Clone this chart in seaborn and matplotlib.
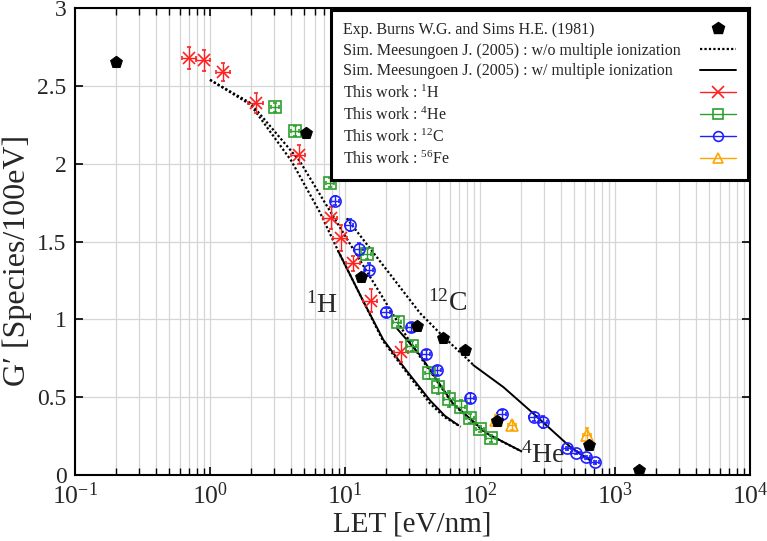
import matplotlib
matplotlib.use("Agg")
import matplotlib.pyplot as plt
import numpy as np
import pandas as pd
import seaborn as sns
from matplotlib.lines import Line2D
from matplotlib.ticker import LogLocator, MultipleLocator, FuncFormatter, NullFormatter

# experiment: Burns W.G. and Sims H.E. (1981)
exp_let = [0.2, 5.1, 13.1, 34.4, 53.5, 78.0, 133, 640, 1515]
exp_g = [2.655, 2.20, 1.275, 0.958, 0.882, 0.806, 0.349, 0.193, 0.034]

# simulation Meesungoen (2005), w/o multiple ionization (dotted)
h_wo_let = [1.0, 2.0, 4.0, 6.5, 8.9, 13.6, 19.2, 28.6, 42.6, 55, 72]
h_wo_g = [2.54, 2.38, 2.02, 1.69, 1.44, 1.12, 0.86, 0.66, 0.46, 0.37, 0.31]
he_wo_let = [1.0, 2.0, 4.6, 7.7, 15.3, 28.6, 36, 63, 112, 205]
he_wo_g = [2.54, 2.39, 2.02, 1.70, 1.275, 0.89, 0.76, 0.455, 0.265, 0.15]
c_wo_let = [10.3, 20.3, 36, 52, 84, 90]
c_wo_g = [1.65, 1.32, 1.04, 0.90, 0.73, 0.705]

# simulation Meesungoen (2005), w/ multiple ionization (solid)
h_w_let = [8.9, 13.6, 19.2, 28.6, 42.6, 55, 69]
h_w_g = [1.44, 1.12, 0.87, 0.67, 0.48, 0.38, 0.32]
he_w_let = [24.2, 36, 63, 112, 200]
he_w_g = [0.943, 0.77, 0.46, 0.268, 0.155]
c_w_let = [89, 149, 248, 464, 650]
c_w_g = [0.707, 0.565, 0.396, 0.182, 0.096]

# this work
h_let = [0.70, 0.90, 1.25, 2.19, 4.54, 7.85, 9.3, 11.5, 15.5, 26.0]
h_g = [2.68, 2.665, 2.59, 2.39, 2.06, 1.65, 1.525, 1.36, 1.12, 0.793]
h_err = [0.07, 0.07, 0.06, 0.065, 0.06, 0.07, 0.085, 0.05, 0.075, 0.065]

he_let = [3.03, 4.26, 7.74, 14.5, 24.5, 31.2, 41.8, 48.7, 58.5, 72.5, 84.0, 100, 120]
he_g = [2.363, 2.212, 1.878, 1.42, 0.986, 0.829, 0.654, 0.568, 0.49, 0.439, 0.364, 0.294, 0.235]
he_err = [0.03, 0.03, 0.03, 0.03, 0.03, 0.03, 0.04, 0.05, 0.05, 0.04, 0.03, 0.02, 0.02]

c_let = [8.5, 10.8, 12.6, 15.1, 20.0, 31.0, 39.8, 48.0, 84.4, 144.5, 250, 294, 443, 511, 610, 711]
c_g = [1.764, 1.608, 1.45, 1.32, 1.045, 0.95, 0.775, 0.672, 0.496, 0.39, 0.375, 0.34, 0.171, 0.144, 0.114, 0.081]
c_err = [0.03, 0.04, 0.04, 0.04, 0.03, 0.03, 0.03, 0.03, 0.03, 0.03, 0.03, 0.04, 0.01, 0.01, 0.01, 0.01]

fe_let = [131.5, 174, 620]
fe_g = [0.354, 0.32, 0.26]
fe_err = [0.03, 0.03, 0.045]

sns.set_theme(style="ticks")
plt.rcParams["font.family"] = ["Liberation Serif", "DejaVu Serif"]
plt.rcParams["mathtext.fontset"] = "custom"
plt.rcParams["mathtext.rm"] = "Liberation Serif"
plt.rcParams["mathtext.it"] = "Liberation Serif:italic"
plt.rcParams["mathtext.bf"] = "Liberation Serif:bold"

fig = plt.figure(figsize=(7.67, 5.41), dpi=100)
ax = fig.add_axes([0.0978, 0.122, 0.880, 0.8627])

dotted = (0, (1, 1))
for lx, ly in [(h_wo_let, h_wo_g), (he_wo_let, he_wo_g), (c_wo_let, c_wo_g)]:
    sns.lineplot(x=lx, y=ly, ax=ax, color="black", lw=1.6, linestyle=dotted,
                 estimator=None, sort=False)
for lx, ly in [(h_w_let, h_w_g), (he_w_let, he_w_g), (c_w_let, c_w_g)]:
    sns.lineplot(x=lx, y=ly, ax=ax, color="black", lw=1.4,
                 estimator=None, sort=False)

styles = {
    "H": ("#ff2020", "x", 9),
    "He": ("#2ca02c", "s", 8),
    "C": ("#1f1fff", "o", 8),
    "Fe": ("#ffa500", "^", 8),
}


def work(lx, ly, err, key, frac):
    color, marker, ms = styles[key]
    lx = np.array(lx)
    ax.errorbar(lx, ly, yerr=err, xerr=lx * frac, fmt=marker, color=color,
                mfc="none" if marker != "x" else color, mec=color, ms=ms,
                mew=1.2, elinewidth=1.0, capsize=1.5, capthick=1.0, zorder=4)
    return Line2D([], [], color=color, lw=1.0, marker=marker, ms=ms - 1,
                  mfc="none" if marker != "x" else color, mec=color, mew=1.2)


eh = work(h_let, h_g, h_err, "H", 0.12)
ehe = work(he_let, he_g, he_err, "He", 0.07)
ec = work(c_let, c_g, c_err, "C", 0.07)
efe = work(fe_let, fe_g, fe_err, "Fe", 0.07)

sns.scatterplot(x=exp_let, y=exp_g, ax=ax, marker="p", s=80, color="black",
                edgecolor="black", zorder=5)

ax.text(6.75, 1.09, "$^{1}$H", fontsize=20, ha="center", va="center")
ax.text(58, 1.105, "$^{12}$C", fontsize=20, ha="center", va="center")
ax.text(291, 0.128, "$^{4}$He", fontsize=20, ha="center", va="center")

ax.set_xscale("log")
ax.set_xlim(0.1, 1e4)
ax.set_ylim(0, 3)
ax.xaxis.set_major_locator(LogLocator(base=10, numticks=10))
ax.xaxis.set_minor_locator(LogLocator(base=10, subs=np.arange(2, 10), numticks=100))
ax.xaxis.set_minor_formatter(NullFormatter())
ax.yaxis.set_major_locator(MultipleLocator(0.5))
ax.yaxis.set_major_formatter(FuncFormatter(lambda v, p: "%g" % v))
ax.grid(which="both", axis="x", color="#d6d6d6", lw=0.9)
ax.grid(which="major", axis="y", color="#d6d6d6", lw=0.9)
ax.set_axisbelow(True)
ax.tick_params(which="both", direction="in", top=True, right=True, color="black")
ax.tick_params(which="major", length=6, width=1.2, labelsize=17, pad=6)
ax.tick_params(axis="x", which="major", labelsize=18.5, pad=5)
ax.tick_params(which="minor", length=5, width=1.0)
for s in ax.spines.values():
    s.set_linewidth(1.5)
    s.set_color("black")

ax.set_xlabel("LET [eV/nm]", fontsize=21, labelpad=2)
ax.set_ylabel("G\u2032 [Species/100eV]", fontsize=23)
ax.yaxis.set_label_coords(-0.064, 0.46)

handles = [
    Line2D([], [], marker="p", color="black", ls="none", ms=9),
    Line2D([], [], color="black", lw=1.6, linestyle=dotted),
    Line2D([], [], color="black", lw=1.4),
    eh, ehe, ec, efe,
]
labels = [
    "Exp. Burns W.G. and Sims H.E. (1981)",
    "Sim. Meesungoen J. (2005) : w/o multiple ionization",
    "Sim. Meesungoen J. (2005) : w/ multiple ionization",
    "This work : $^{1}$H",
    "This work : $^{4}$He",
    "This work : $^{12}$C",
    "This work : $^{56}$Fe",
]
leg = ax.legend(handles, labels, loc="upper right", markerfirst=False, fontsize=11.5,
                frameon=True, fancybox=False, framealpha=1, edgecolor="black",
                labelspacing=0.3, borderpad=0.75, handlelength=2.3, handletextpad=0.6,
                borderaxespad=0.1)
leg.get_frame().set_linewidth(2.2)
# texts flush left, handles flush right
for col in leg._legend_handle_box.get_children():
    for item in col.get_children():
        item.mode = "expand"
        item.width = 393

fig.savefig("out.png", dpi=100)
